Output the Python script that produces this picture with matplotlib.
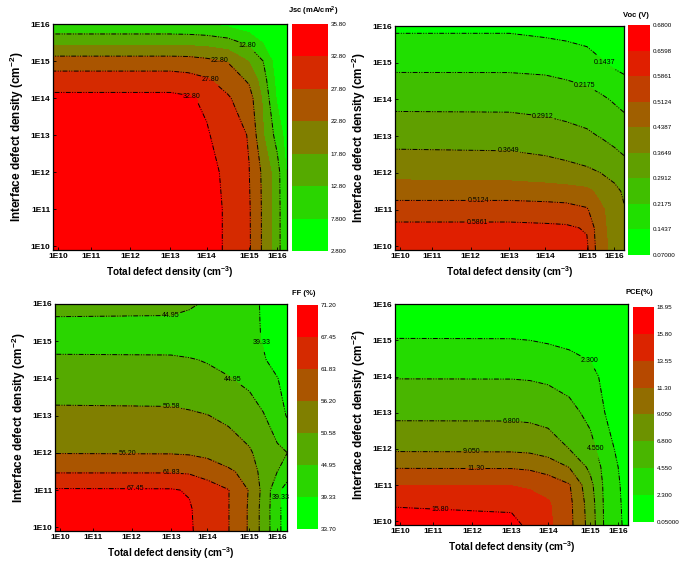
import numpy as np
import matplotlib
matplotlib.use('Agg')
import matplotlib.pyplot as plt
from matplotlib.colors import LinearSegmentedColormap

plt.rcParams['font.family'] = ['Liberation Sans', 'DejaVu Sans']
plt.rcParams['mathtext.fontset'] = 'custom'
plt.rcParams['mathtext.rm'] = 'Liberation Sans:bold'
plt.rcParams['mathtext.it'] = 'Liberation Sans:bold'
plt.rcParams['mathtext.bf'] = 'Liberation Sans:bold'

# ---- data: log10 of the densities at the grid nodes and the simulated values ----
decades = [10, 11, 12, 13, 14, 15, 16]
decade_text = ['1E10', '1E11', '1E12', '1E13', '1E14', '1E15', '1E16']

jsc_total = [9.85, 12, 13, 13.5, 14, 14.5, 15, 15.5, 16, 16.35]
jsc_interface = [9.9, 11, 12, 13, 14, 14.5, 15, 15.5, 16]
jsc_values = [
    [35.0, 35.0, 35.0, 35.0, 35.0, 32.0, 28.4, 22.0, 15.0, 7.5],
    [35.0, 35.0, 35.0, 35.0, 35.0, 32.0, 28.3, 22.0, 15.0, 7.5],
    [35.0, 35.0, 35.0, 35.0, 35.0, 31.3, 27.9, 21.8, 14.8, 7.2],
    [35.0, 35.0, 35.0, 34.8, 33.3, 30.2, 27.5, 18.1, 11.0, 5.5],
    [34.0, 34.0, 34.0, 33.4, 31.9, 28.3, 25.0, 17.0, 7.0, 4.5],
    [30.1, 30.1, 30.1, 29.5, 28.3, 25.8, 22.0, 15.0, 6.0, 4.0],
    [25.1, 25.1, 25.1, 24.9, 24.0, 22.5, 17.5, 12.8, 5.0, 3.5],
    [16.5, 16.5, 16.5, 16.4, 16.0, 14.8, 11.5, 7.5, 3.5, 3.0],
    [8.5, 8.5, 8.5, 8.3, 7.8, 6.5, 4.5, 3.5, 3.0, 2.9],
]
jsc_levels = [2.8, 7.8, 12.8, 17.8, 22.8, 27.8, 32.8, 35.8]
jsc_level_text = ['2.800', '7.800', '12.80', '17.80', '22.80', '27.80', '32.80', '35.80']
jsc_lines = [12.8, 22.8, 27.8, 32.8]
jsc_label_at = [(14.95, 15.4), (14.3, 14.95), (14.08, 14.5), (13.6, 14.05)]

voc_total = [9.85, 13, 14, 14.5, 15, 15.5, 16, 16.35]
voc_interface = [9.9, 10.5, 11, 11.5, 12, 13, 14, 15, 16]
voc_values = [
    [0.650, 0.650, 0.645, 0.640, 0.600, 0.460, 0.420, 0.400],
    [0.604, 0.604, 0.600, 0.597, 0.580, 0.455, 0.415, 0.390],
    [0.549, 0.549, 0.545, 0.540, 0.520, 0.450, 0.410, 0.370],
    [0.476, 0.476, 0.470, 0.465, 0.455, 0.420, 0.385, 0.355],
    [0.416, 0.410, 0.400, 0.390, 0.378, 0.365, 0.340, 0.320],
    [0.337, 0.335, 0.325, 0.315, 0.303, 0.288, 0.270, 0.259],
    [0.269, 0.268, 0.262, 0.255, 0.245, 0.230, 0.210, 0.195],
    [0.199, 0.199, 0.195, 0.185, 0.170, 0.150, 0.130, 0.120],
    [0.130, 0.130, 0.120, 0.115, 0.110, 0.100, 0.090, 0.085],
]
voc_levels = [0.07, 0.1437, 0.2175, 0.2912, 0.3649, 0.4387, 0.5124, 0.5861, 0.6598, 0.68]
voc_level_text = ['0.07000', '0.1437', '0.2175', '0.2912', '0.3649', '0.4387',
                  '0.5124', '0.5861', '0.6598', '0.6800']
voc_lines = [0.1437, 0.2175, 0.2912, 0.3649, 0.5124, 0.5861]
voc_label_at = [(15.64, 14.98), (14.96, 14.46), (13.94, 13.62), (12.97, 12.55),
                (12.2, 11.26), (12.17, 10.74)]

ff_total = [9.85, 13, 13.5, 14, 14.5, 15, 15.5, 16, 16.35]
ff_interface = [9.9, 10.5, 11, 11.5, 12, 13, 14, 14.5, 15, 15.5, 16]
ff_values = [
    [69.5, 69.5, 68.3, 64.5, 62.0, 55.5, 48.5, 41.0, 36.5],
    [68.8, 68.8, 68.0, 64.5, 62.0, 55.5, 48.5, 41.0, 36.5],
    [68.0, 67.9, 67.0, 64.5, 62.0, 55.8, 49.0, 41.0, 36.5],
    [61.3, 61.3, 61.0, 59.5, 57.0, 54.5, 48.0, 45.0, 43.0],
    [56.0, 55.9, 55.6, 54.8, 53.2, 51.2, 48.5, 46.0, 45.0],
    [51.6, 51.5, 51.2, 50.7, 49.5, 47.5, 45.3, 42.0, 39.0],
    [48.0, 47.8, 47.2, 46.3, 45.2, 43.6, 41.5, 39.5, 37.5],
    [46.0, 45.8, 45.3, 44.6, 43.5, 41.8, 39.8, 37.5, 36.0],
    [42.5, 42.5, 42.3, 42.0, 41.6, 40.8, 39.0, 37.0, 36.0],
    [44.0, 44.0, 43.5, 42.8, 42.0, 41.0, 38.8, 36.0, 35.0],
    [47.0, 46.5, 45.6, 44.3, 43.0, 41.5, 38.5, 36.0, 35.0],
]
ff_levels = [33.7, 39.33, 44.95, 50.58, 56.2, 61.83, 67.45, 71.2]
ff_level_text = ['33.70', '39.33', '44.95', '50.58', '56.20', '61.83', '67.45', '71.20']
ff_lines = [39.33, 44.95, 50.58, 56.2, 61.83, 67.45]
ff_label_at = [(13.0, 15.65), (15.37, 14.95), (14.6, 13.96), (13.0, 13.24),
               (11.9, 12.03), (13.0, 11.46), (12.1, 11.04), (16.1, 10.8)]

pce_total = [9.85, 13, 13.5, 14, 14.5, 15, 15.5, 16, 16.35]
pce_interface = [9.9, 10.5, 11, 11.5, 12, 13, 14, 15, 16]
pce_values = [
    [17.5, 16.6, 15.2, 14.0, 12.0, 8.2, 4.4, 2.7, 1.7],
    [15.43, 15.2, 14.6, 13.8, 11.9, 8.0, 4.3, 2.6, 1.6],
    [13.55, 13.5, 13.2, 12.6, 11.5, 7.5, 4.2, 2.5, 1.5],
    [11.13, 11.1, 10.9, 10.3, 9.0, 6.3, 4.0, 2.3, 1.3],
    [8.7, 8.65, 8.5, 8.0, 6.8, 5.2, 3.6, 1.8, 1.0],
    [6.26, 6.25, 6.15, 5.9, 5.2, 4.0, 2.35, 1.3, 0.8],
    [4.43, 4.42, 4.35, 4.15, 3.7, 2.9, 1.9, 1.0, 0.6],
    [2.4, 2.38, 2.3, 2.1, 1.8, 1.5, 1.1, 0.6, 0.3],
    [0.5, 0.5, 0.45, 0.4, 0.35, 0.3, 0.2, 0.1, 0.07],
]
pce_levels = [0.05, 2.3, 4.55, 6.8, 9.05, 11.3, 13.55, 15.8, 18.95]
pce_level_text = ['0.05000', '2.300', '4.550', '6.800', '9.050', '11.30', '13.55', '15.80', '18.95']
pce_lines = [2.3, 4.55, 6.8, 9.05, 11.3, 15.8]
pce_label_at = [(14.95, 14.39), (13.0, 12.7), (15.15, 12.0), (12.0, 11.87),
                (12.1, 11.47), (11.2, 10.4)]

# the x axis of the original is not evenly spaced in decades
x_anchor = [9.85, 10, 11, 12, 13, 14, 15, 16, 16.35]
x_anchor_pos = [0.0, 0.023, 0.163, 0.33, 0.5, 0.657, 0.838, 0.958, 1.0]


def x_fwd(v):
    return np.interp(v, x_anchor, x_anchor_pos)


def x_inv(p):
    return np.interp(p, x_anchor_pos, x_anchor)


green_red = LinearSegmentedColormap.from_list('green_red', ['#00ff00', '#ff0000'])
dash_dot_dot = (0, (5, 1.5, 1, 1.5, 1, 1.5))


def draw_panel(fig, ax_rect, bar_rect, total, interface, values, levels, level_text,
               line_levels, label_at, bar_title, title_xy):

    ax = fig.add_axes(ax_rect)
    ax.set_xscale('function', functions=(x_fwd, x_inv))
    z = np.array(values)
    band_colors = green_red(np.linspace(0, 1, len(levels) - 1))
    cf = ax.contourf(total, interface, z, levels=levels, colors=band_colors)
    cs = ax.contour(total, interface, z, levels=line_levels, colors='black', linewidths=0.7)
    fmt = {}
    for lv in cs.levels:
        i = int(np.argmin(np.abs(np.array(levels) - lv)))
        fmt[lv] = level_text[i]
    labels = ax.clabel(cs, fmt=fmt, fontsize=5, manual=label_at, inline=True, inline_spacing=1)
    for t in labels:
        t.set_rotation(0)
        t.set_clip_on(False)
    cs.set_linestyle(dash_dot_dot)

    ax.set_xlim(9.85, 16.35)
    ax.set_ylim(9.9, 16.0)
    ax.set_xticks(decades)
    ax.set_xticklabels(decade_text)
    ax.set_yticks(decades)
    ax.set_yticklabels(decade_text)
    ax.tick_params(direction='in', length=2.5, width=0.6, labelsize=6, pad=2)
    for lab in ax.get_xticklabels() + ax.get_yticklabels():
        lab.set_fontweight('bold')
    for sp in ax.spines.values():
        sp.set_linewidth(0.9)
    ax.set_xlabel('Total defect density (cm$^{-3}$)', fontsize=7.2, fontweight='bold', labelpad=3)
    ax.set_ylabel('Interface defect density (cm$^{-2}$)', fontsize=8.5, fontweight='bold', labelpad=3)

    cax = fig.add_axes(bar_rect)
    cb = fig.colorbar(cf, cax=cax, ticks=levels)
    cb.ax.set_yticklabels(level_text)
    cb.outline.set_visible(False)
    cb.ax.tick_params(length=0, labelsize=4.5, pad=2)
    fig.text(title_xy[0], title_xy[1], bar_title, fontsize=5.5, fontweight='bold', ha='center', va='center')


fig = plt.figure(figsize=(6.85, 5.64), dpi=100)

draw_panel(fig, [0.0774, 0.5567, 0.3416, 0.4007], [0.4263, 0.555, 0.0526, 0.4025],
           jsc_total, jsc_interface, jsc_values, jsc_levels, jsc_level_text,
           jsc_lines, jsc_label_at, 'Jsc (mA/cm$^2$)', (0.457, 0.979))
draw_panel(fig, [0.5766, 0.5567, 0.3343, 0.3972], [0.9168, 0.5479, 0.0321, 0.4078],
           voc_total, voc_interface, voc_values, voc_levels, voc_level_text,
           voc_lines, voc_label_at, 'Voc (V)', (0.928, 0.973))
draw_panel(fig, [0.0803, 0.0585, 0.3387, 0.4025], [0.4336, 0.0621, 0.0307, 0.3972],
           ff_total, ff_interface, ff_values, ff_levels, ff_level_text,
           ff_lines, ff_label_at, 'FF (%)', (0.444, 0.480))
draw_panel(fig, [0.5766, 0.0691, 0.3401, 0.3918], [0.9241, 0.0745, 0.0307, 0.3812],
           pce_total, pce_interface, pce_values, pce_levels, pce_level_text,
           pce_lines, pce_label_at, 'PCE(%)', (0.934, 0.482))

fig.savefig('out.png', dpi=100)
